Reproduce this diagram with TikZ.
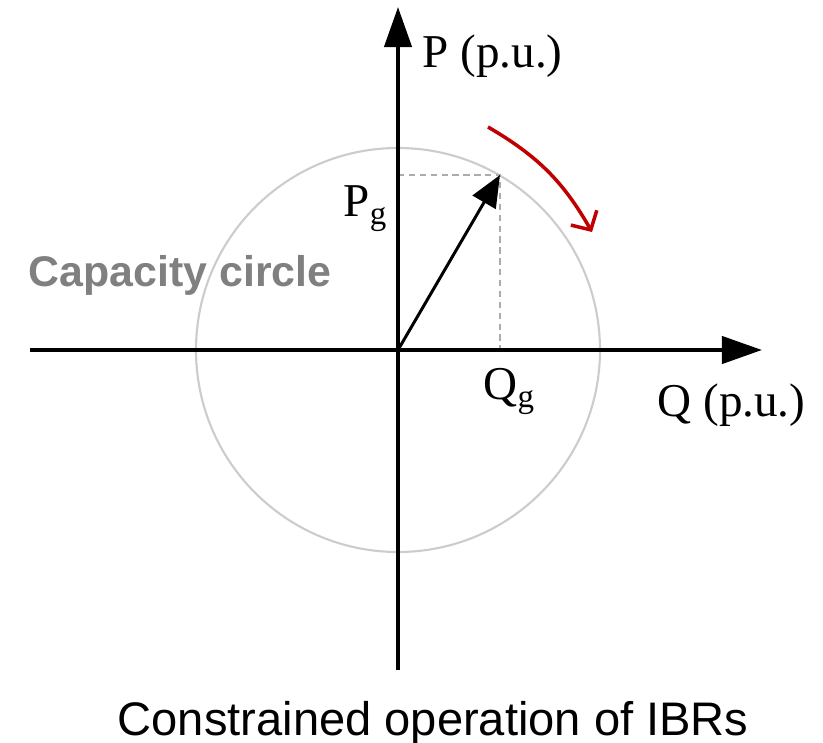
\documentclass[tikz,border=0pt]{standalone}
\usepackage{fontspec}
\setmainfont{Liberation Serif}
\setsansfont{Liberation Sans}
\usepackage{tikz}
\usetikzlibrary{arrows.meta}
\definecolor{turnred}{HTML}{C00000}
\tikzset{
  axisline/.style  = {-{Triangle[length=11.4pt,width=7.7pt]}, line width=1.2pt},
  phasor/.style    = {-{Triangle[length=9pt,width=7.5pt]}, line width=0.85pt},
  projline/.style  = {gray!65, line width=0.8pt, dash pattern=on 1.8pt off 1.3pt},
  capcircle/.style = {gray!40, line width=0.6pt},
  turnar/.style    = {-{Straight Barb[length=4pt,width=8.5pt]}, turnred, line width=1pt},
  axislabel/.style = {anchor=base west, inner sep=0pt, font=\fontsize{13.4}{16}\selectfont}
}
\begin{document}
\begin{tikzpicture}
  \useasboundingbox (-3.98,-3.92) rectangle (4.25,3.50);
  \coordinate (O)    at (0,0);
  \coordinate (qlo)  at (-3.68,0);
  \coordinate (qhi)  at (3.64,0);
  \coordinate (plo)  at (0,-3.20);
  \coordinate (phi)  at (0,3.43);
  \coordinate (op)   at (1.02,1.75);
  \coordinate (opP)  at (0,1.75);
  \coordinate (opQ)  at (1.02,0);
  \coordinate (rs)   at (0.90,2.23);
  \coordinate (re)   at (1.94,1.18);
  % capacity circle and projections
  \draw[capcircle] (O) circle (2.02);
  \draw[projline] (opP) -- (op) -- (opQ);
  % axes
  \draw[axisline] (qlo) -- (qhi);
  \draw[axisline] (plo) -- (phi);
  % operating point and rotation
  \draw[phasor] (O) -- (op);
  \draw[turnar] (rs) to[bend left=15] (re);
  % labels
  \node[axislabel] (plab)  at (0.24,2.82)  {P (p.u.)};
  \node[axislabel] (qlab)  at (2.59,-0.67) {Q (p.u.)};
  \node[axislabel] (pglab) at (-0.55,1.33) {P\textsubscript{g}};
  \node[axislabel] (qglab) at (0.85,-0.50) {Q\textsubscript{g}};
  \node[axislabel, font=\sffamily\bfseries\fontsize{12.2}{14}\selectfont, black!50]
        (caplab) at (-3.70,0.63) {Capacity circle};
  \node[axislabel, font=\sffamily\fontsize{13.4}{16}\selectfont]
        (title) at (-2.81,-3.85) {Constrained operation of IBRs};
\end{tikzpicture}
\end{document}
